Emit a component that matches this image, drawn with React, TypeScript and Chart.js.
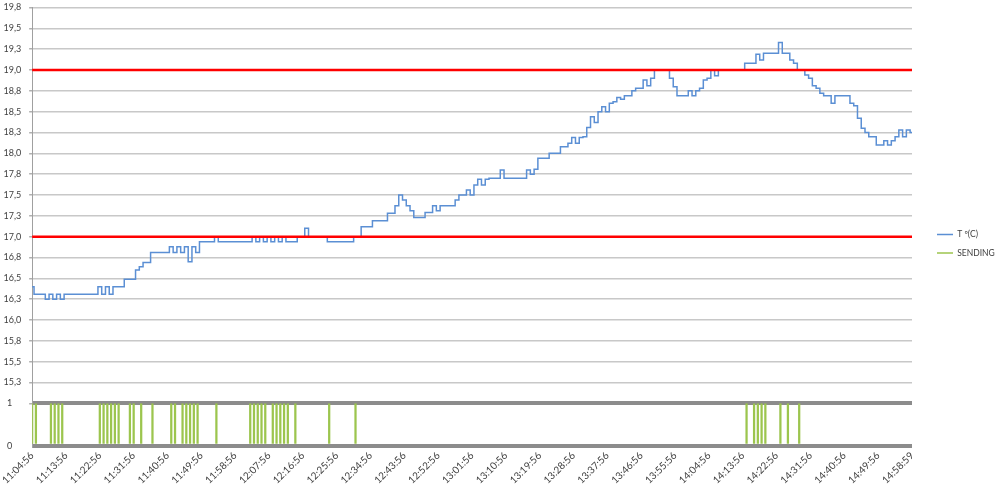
import { useEffect, useRef } from 'react';
import { Chart, registerables } from 'chart.js';

Chart.register(...registerables);

// ---- data ----
const tickTimes = [
  '11:04:56', '11:13:56', '11:22:56', '11:31:56', '11:40:56', '11:49:56', '11:58:56',
  '12:07:56', '12:16:56', '12:25:56', '12:34:56', '12:43:56', '12:52:56', '13:01:56',
  '13:10:56', '13:19:56', '13:28:56', '13:37:56', '13:46:56', '13:55:56', '14:04:56',
  '14:13:56', '14:22:56', '14:31:56', '14:40:56', '14:49:56', '14:58:59',
];
const samplesPerTick = 9;

const temperature = [
  16.40, 16.31, 16.31, 16.31, 16.25, 16.31, 16.25, 16.31, 16.25, 16.31,
  16.31, 16.31, 16.31, 16.31, 16.31, 16.31, 16.31, 16.31, 16.40, 16.31,
  16.40, 16.31, 16.40, 16.40, 16.40, 16.49, 16.49, 16.49, 16.60, 16.64,
  16.69, 16.69, 16.81, 16.81, 16.81, 16.81, 16.81, 16.88, 16.81, 16.88,
  16.81, 16.88, 16.70, 16.88, 16.81, 16.94, 16.94, 16.94, 16.94, 17.00,
  16.94, 16.94, 16.94, 16.94, 16.94, 16.94, 16.94, 16.94, 16.94, 17.00,
  16.94, 17.00, 16.94, 17.00, 16.94, 17.00, 16.94, 17.00, 16.94, 16.94,
  16.94, 17.00, 17.00, 17.10, 17.00, 17.00, 17.00, 17.00, 17.00, 16.94,
  16.94, 16.94, 16.94, 16.94, 16.94, 16.94, 17.00, 17.00, 17.12, 17.12,
  17.12, 17.19, 17.19, 17.19, 17.19, 17.28, 17.28, 17.37, 17.50, 17.44,
  17.37, 17.31, 17.23, 17.23, 17.23, 17.29, 17.29, 17.37, 17.31, 17.37,
  17.37, 17.37, 17.37, 17.44, 17.50, 17.50, 17.56, 17.50, 17.62, 17.69,
  17.62, 17.69, 17.70, 17.70, 17.70, 17.80, 17.70, 17.70, 17.70, 17.70,
  17.70, 17.70, 17.80, 17.75, 17.81, 17.94, 17.94, 17.94, 18.00, 18.00,
  18.00, 18.08, 18.08, 18.12, 18.19, 18.12, 18.19, 18.20, 18.31, 18.44,
  18.37, 18.50, 18.56, 18.50, 18.60, 18.62, 18.67, 18.65, 18.69, 18.69,
  18.75, 18.78, 18.78, 18.88, 18.81, 18.90, 19.00, 19.00, 19.00, 19.00,
  18.90, 18.80, 18.69, 18.69, 18.69, 18.75, 18.69, 18.75, 18.78, 18.88,
  18.90, 19.00, 18.93, 19.00, 19.00, 19.00, 19.00, 19.00, 19.00, 19.00,
  19.08, 19.08, 19.08, 19.19, 19.12, 19.20, 19.20, 19.20, 19.20, 19.33,
  19.20, 19.20, 19.12, 19.08, 19.00, 19.00, 18.94, 18.90, 18.81, 18.78,
  18.72, 18.69, 18.69, 18.60, 18.69, 18.69, 18.69, 18.69, 18.60, 18.57,
  18.42, 18.30, 18.25, 18.20, 18.20, 18.10, 18.10, 18.15, 18.10, 18.15,
  18.20, 18.28, 18.20, 18.28, 18.25,
];

const sending = [
  1, 1, 0, 0, 0, 1, 1, 1, 1, 0,
  0, 0, 0, 0, 0, 0, 0, 0, 1, 1,
  1, 1, 1, 1, 0, 0, 1, 1, 0, 1,
  0, 0, 1, 0, 0, 0, 0, 1, 1, 0,
  1, 1, 1, 1, 1, 0, 0, 0, 0, 1,
  0, 0, 0, 0, 0, 0, 0, 0, 1, 1,
  1, 1, 1, 0, 1, 1, 1, 1, 1, 0,
  1, 0, 0, 0, 0, 0, 0, 0, 0, 1,
  0, 0, 0, 0, 0, 0, 1, 0, 0, 0,
  0, 0, 0, 0, 0, 0, 0, 0, 0, 0,
  0, 0, 0, 0, 0, 0, 0, 0, 0, 0,
  0, 0, 0, 0, 0, 0, 0, 0, 0, 0,
  0, 0, 0, 0, 0, 0, 0, 0, 0, 0,
  0, 0, 0, 0, 0, 0, 0, 0, 0, 0,
  0, 0, 0, 0, 0, 0, 0, 0, 0, 0,
  0, 0, 0, 0, 0, 0, 0, 0, 0, 0,
  0, 0, 0, 0, 0, 0, 0, 0, 0, 0,
  0, 0, 0, 0, 0, 0, 0, 0, 0, 0,
  0, 0, 0, 0, 0, 0, 0, 0, 0, 0,
  1, 0, 1, 1, 1, 1, 0, 0, 0, 1,
  0, 1, 0, 0, 1, 0, 0, 0, 0, 0,
  0, 0, 0, 0, 0, 0, 0, 0, 0, 0,
  0, 0, 0, 0, 0, 0, 0, 0, 0, 0,
  0, 0, 0, 0, 0,
];

const limitLow = 17.0;
const limitHigh = 19.0;

const tempTickLabels = [
  '15,3', '15,5', '15,8', '16,0', '16,3', '16,5', '16,8', '17,0', '17,3', '17,5',
  '17,8', '18,0', '18,3', '18,5', '18,8', '19,0', '19,3', '19,5', '19,8',
];
const tempTickStart = 15.25;
const tempTickStep = 0.25;
const sendTickLabels = ['0', '1'];

const seriesNames = ['T º(C)', 'SENDING'];
const tempColor = '#5b8fd4';
const sendColor = '#9cc54e';
const limitColor = '#ff0000';

// ---- chart ----
const categories = temperature.map((_, i) =>
  i % samplesPerTick === 0 ? tickTimes[i / samplesPerTick] : ''
);

const FONT = 'Lato, "Liberation Sans", sans-serif';

const legendPlacement = {
  id: 'legendPlacement',
  beforeLayout(chart: any) {
    const legend = chart.legend;
    if (legend && !legend.__patched) {
      const fit = legend.fit.bind(legend);
      legend.fit = () => {
        fit();
        legend.width = 70;
      };
      legend.__patched = true;
    }
  },
  afterLayout(chart: any) {
    const legend = chart.legend;
    if (legend) {
      legend.left += 15;
      legend.right += 15;
      legend.top -= 5;
      legend.bottom -= 5;
    }
  },
};

export default function App() {
  const canvasRef = useRef<HTMLCanvasElement | null>(null);

  useEffect(() => {
    const canvas = canvasRef.current;
    if (!canvas) return;
    const first = categories[0];
    const last = categories[categories.length - 1];
    const chart = new Chart(canvas, {
      type: 'line',
      data: {
        labels: categories,
        datasets: [
          {
            type: 'line',
            label: seriesNames[0],
            data: temperature,
            yAxisID: 'yTemp',
            borderColor: tempColor,
            backgroundColor: tempColor,
            borderWidth: 1.5,
            pointRadius: 0,
            stepped: 'middle',
            order: 1,
          },
          {
            type: 'bar',
            label: seriesNames[1],
            data: sending,
            yAxisID: 'ySend',
            backgroundColor: sendColor,
            borderWidth: 0,
            barPercentage: 0.6,
            categoryPercentage: 1,
            order: 2,
          },
          {
            type: 'line',
            label: '',
            data: [{ x: first, y: limitLow }, { x: last, y: limitLow }],
            yAxisID: 'yTemp',
            borderColor: limitColor,
            borderWidth: 2.5,
            pointRadius: 0,
            order: 0,
          },
          {
            type: 'line',
            label: '',
            data: [{ x: first, y: limitHigh }, { x: last, y: limitHigh }],
            yAxisID: 'yTemp',
            borderColor: limitColor,
            borderWidth: 2.5,
            pointRadius: 0,
            order: 0,
          },
        ] as any,
      },
      options: {
        animation: false,
        responsive: false,
        maintainAspectRatio: false,
        layout: { padding: { top: 7.5, right: 18, bottom: 0, left: 0 } },
        plugins: {
          tooltip: { enabled: false },
          legend: {
            position: 'right',
            align: 'center',
            labels: {
              font: { family: FONT, size: 8.5 },
              color: '#404040',
              usePointStyle: true,
              pointStyleWidth: 16,
              boxWidth: 16,
              padding: 10,
              generateLabels: (c: any) =>
                c.data.datasets
                  .map((ds: any, i: number) => ({
                    text: ds.label,
                    fillStyle: i === 0 ? tempColor : sendColor,
                    strokeStyle: i === 0 ? tempColor : sendColor,
                    lineWidth: 1.5,
                    pointStyle: 'line',
                    hidden: false,
                    datasetIndex: i,
                    fontColor: '#404040',
                  }))
                  .filter((it: any) => it.text),
            },
          },
        },
        scales: {
          x: {
            type: 'category',
            offset: false,
            grid: { display: false, drawTicks: false },
            border: { display: false },
            ticks: {
              autoSkip: false,
              maxRotation: 45,
              minRotation: 45,
              padding: 4,
              color: '#404040',
              font: { family: FONT, size: 10 },
            },
            afterFit: (s: any) => {
              s.height = 44.3;
            },
          },
          ySend: {
            type: 'linear',
            position: 'left',
            stack: 'main',
            stackWeight: 42.4,
            min: 0,
            max: 1,
            z: 1,
            grid: {
              color: (ctx: any) => (ctx.tick && ctx.tick.value === 0.5 ? '#c8c8c8' : '#8c8c8c'),
              lineWidth: (ctx: any) => (ctx.tick && ctx.tick.value === 0.5 ? 1.5 : 4),
              drawTicks: false,
            },
            border: { color: '#a0a0a0', width: 1 },
            ticks: {
              stepSize: 0.5,
              padding: 20,
              color: '#404040',
              font: { family: FONT, size: 9 },
              callback: (v: any) => {
                const n = Number(v);
                if (n === 0) return sendTickLabels[0];
                if (n === 1) return sendTickLabels[1];
                return '';
              },
            },
            afterFit: (s: any) => {
              s.width = 32;
              s.paddingTop = 0;
              s.paddingBottom = 0;
            },
          },
          yTemp: {
            type: 'linear',
            position: 'left',
            stack: 'main',
            stackWeight: 395.8,
            min: 15,
            max: 19.75,
            grid: {
              color: (ctx: any) => (ctx.tick && ctx.tick.value < 15.2 ? 'rgba(0,0,0,0)' : '#c8c8c8'),
              lineWidth: 1.5,
              tickLength: 3,
              tickColor: '#b0b0b0',
            },
            border: { color: '#a0a0a0', width: 1 },
            ticks: {
              stepSize: 0.25,
              maxTicksLimit: 40,
              autoSkip: false,
              padding: 8,
              color: '#404040',
              font: { family: FONT, size: 9 },
              callback: (v: any) => {
                const idx = Math.round((Number(v) - tempTickStart) / tempTickStep);
                return idx >= 0 && idx < tempTickLabels.length ? tempTickLabels[idx] : '';
              },
            },
            afterFit: (s: any) => {
              s.width = 32;
              s.paddingTop = 0;
              s.paddingBottom = 0;
            },
          },
        },
      } as any,
      plugins: [legendPlacement],
    });
    return () => chart.destroy();
  }, []);

  return (
    <div style={{ position: 'fixed', left: 0, top: 0, width: 1000, height: 490, background: '#fff' }}>
      <canvas ref={canvasRef} width={1000} height={490} style={{ display: 'block' }} />
    </div>
  );
}
